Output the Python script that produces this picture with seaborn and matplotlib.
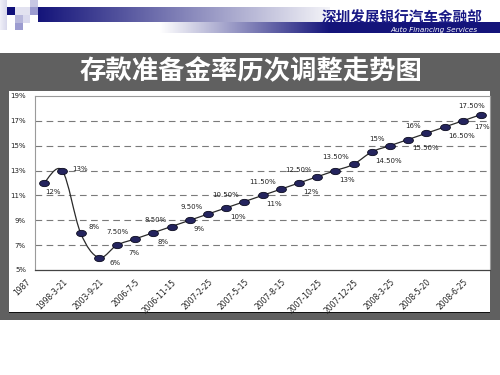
import numpy as np
import pandas as pd
import matplotlib
matplotlib.use("Agg")
import matplotlib.pyplot as plt
import seaborn as sns
from matplotlib.path import Path
from matplotlib.patches import PathPatch, Rectangle
from matplotlib.transforms import ScaledTranslation, Affine2D

# ---------------- data ----------------
dates = ["1987", "1988", "1998-3-21", "1999-11-21", "2003-9-21", "2004-4-25",
         "2006-7-5", "2006-8-15", "2006-11-15", "2007-1-15", "2007-2-25",
         "2007-4-16", "2007-5-15", "2007-6-5", "2007-8-15", "2007-9-25",
         "2007-10-25", "2007-11-26", "2007-12-25", "2008-1-25", "2008-3-25",
         "2008-4-25", "2008-5-20", "2008-6-15", "2008-6-25"]
rates = [12, 13, 8, 6, 7, 7.5, 8, 8.5, 9, 9.5, 10, 10.5, 11, 11.5, 12, 12.5,
         13, 13.5, 14.5, 15, 15.5, 16, 16.5, 17, 17.5]
point_labels = ["12%", "13%", "8%", "6%", "7%", "7.50%", "8%", "8.50%", "9%",
                "9.50%", "10%", "10.50%", "11%", "11.50%", "12%", "12.50%",
                "13%", "13.50%", "14.50%", "15%", "15.50%", "16%", "16.50%",
                "17%", "17.50%"]
y_ticks = [5, 7, 9, 11, 13, 15, 17, 19]
y_tick_labels = ["5%", "7%", "9%", "11%", "13%", "15%", "17%", "19%"]
shown_dates = dates[::2]
title = "存款准备金率历次调整走势图"
company_cn = "深圳发展银行汽车金融部"
company_en = "Auto Financing Services"

# label placement style per point: (ha, va, dx_px, dy_px)
BR = ("left", "top", 4, -6)
AL = ("right", "bottom", -5, 4)
placements = [("left", "top", 1, -6), ("left", "center", 10, 2),
              ("left", "center", 8, 6), ("left", "center", 11, -5.5),
              ("left", "center", 12, -8), ("right", "bottom", -6, 4)]
for i in range(6, 23):
    placements.append(BR if i % 2 == 0 else AL)
placements += [("left", "top", 12, -3), ("right", "bottom", 4, 6)]

# ---------------- figure ----------------
sns.set_style("white")
plt.rcParams["font.family"] = ["DejaVu Sans", "Noto Sans CJK SC"]

W, H = 500, 375
fig = plt.figure(figsize=(5, 3.75), dpi=100)
fig.patch.set_facecolor("white")


def fr(x0, y0, x1, y1):
    """pixel box (top-left origin) -> figure fraction rect"""
    return [x0 / W, 1 - y1 / H, (x1 - x0) / W, (y1 - y0) / H]


def rect(x0, y0, x1, y1, color, z=0):
    l, b, w, h = fr(x0, y0, x1, y1)
    fig.patches.append(Rectangle((l, b), w, h, transform=fig.transFigure,
                                 facecolor=color, edgecolor="none", zorder=z))


navy = "#14147a"
# grey panel
rect(0, 53, 500, 320, "#606060")
# white chart area
rect(9, 91, 490, 312, "white", 1)
rect(9, 311.5, 490, 313, "#111111", 2)

# header gradient bars
def grad_bar(x0, y0, x1, y1, c_left, c_right):
    ax_g = fig.add_axes(fr(x0, y0, x1, y1))
    c0 = np.array(matplotlib.colors.to_rgb(c_left))
    c1 = np.array(matplotlib.colors.to_rgb(c_right))
    t = np.linspace(0, 1, 256)[None, :, None]
    img = c0 + (c1 - c0) * t
    ax_g.imshow(img, aspect="auto", extent=[0, 1, 0, 1])
    ax_g.set_axis_off()
    return ax_g

grad_bar(38, 7, 330, 22, navy, "#f4f4f8")
grad_bar(160, 22, 330, 33, "#ffffff", navy)
rect(330, 22, 500, 33, navy)
grad_bar(0, 0, 7, 30, "#f0f0f8", "#d8d8ec")
rect(7, 7, 15, 15, "#10107a")
rect(15, 7, 30, 15, "#e2e2f0")
rect(30, 0, 38, 7, "#c8c8e4")
rect(30, 7, 38, 15, "#9c9cd0")
rect(15, 15, 23, 23, "#b8b8dc")
rect(23, 15, 30, 23, "#dadaee")
rect(15, 23, 23, 30, "#9c9cd0")

fig.text(482 / W, 1 - 17.5 / H, company_cn, ha="right", va="center",
         fontsize=10.5, fontweight="bold", color="#1a1a86",
         family=["Noto Sans CJK SC", "DejaVu Sans"])
fig.text(478 / W, 1 - 30 / H, company_en, ha="right", va="center",
         fontsize=5.2, style="italic", color="white")
fig.text(251 / W, 1 - 72 / H, title, ha="center", va="center",
         fontsize=19, fontweight="bold", color="white",
         family=["Noto Sans CJK SC", "DejaVu Sans"])

# ---------------- plot area ----------------
ax = fig.add_axes(fr(35, 96, 490, 270))
ax.set_zorder(5)
ax.set_facecolor("white")

df = pd.DataFrame({"date": dates, "rate": rates})
df["pos"] = np.arange(len(df))

# smoothed line (Catmull-Rom -> cubic Bezier), like Excel smoothing
P = df[["pos", "rate"]].to_numpy(dtype=float)
n = len(P)
verts = [P[0]]
codes = [Path.MOVETO]
for i in range(n - 1):
    p_prev = P[i - 1] if i > 0 else P[i]
    p_next = P[i + 2] if i + 2 < n else P[i + 1]
    c1 = P[i] + (P[i + 1] - p_prev) / 6.0
    c2 = P[i + 1] - (p_next - P[i]) / 6.0
    verts += [c1, c2, P[i + 1]]
    codes += [Path.CURVE4] * 3
ax.add_patch(PathPatch(Path(verts, codes), fill=False, edgecolor="#2a2a2a",
                       lw=0.9, zorder=2))

ell = Path.unit_circle().transformed(Affine2D().scale(1.0, 0.64))
sns.scatterplot(data=df, x="pos", y="rate", marker=ell, s=50,
                color="#24245e", edgecolor="#0a0a1e", linewidth=0.6,
                zorder=3, ax=ax, legend=False)

for i, (xv, yv, lab) in enumerate(zip(df["pos"], df["rate"], point_labels)):
    ha, va, dx, dy = placements[i]
    ax.annotate(lab, (xv, yv), xytext=(dx * 0.72, dy * 0.72),
                textcoords="offset points", ha=ha, va=va, fontsize=5,
                color="#222222", zorder=4)

ax.set_xlim(-0.5, len(dates) - 0.5)
ax.set_ylim(5, 19)
ax.set_xlabel("")
ax.set_ylabel("")

# grid lines
for yv in y_ticks[1:-1]:
    ax.axhline(yv, color="#7a7a7a", lw=0.8, ls=(0, (6, 4)), zorder=1)

ax.set_yticks(y_ticks)
ax.set_yticklabels(y_tick_labels)
ax.tick_params(axis="y", length=0, pad=6.5, labelsize=5, labelcolor="#222222")

ax.set_xticks(np.arange(-0.5, len(dates), 1.0))
ax.set_xticklabels([])
ax.tick_params(axis="x", which="major", direction="in", length=2.5,
               width=0.8, color="#333333")
ax.set_xticks(np.arange(0, len(dates), 2), minor=True)
ax.set_xticklabels(shown_dates, minor=True, rotation=45, ha="right",
                   va="top", rotation_mode="anchor", fontsize=5.5,
                   color="#222222")
ax.tick_params(axis="x", which="minor", length=0, pad=5.5)
off = ScaledTranslation(-18 / 100, 0, fig.dpi_scale_trans)
for lab in ax.get_xticklabels(minor=True):
    lab.set_transform(lab.get_transform() + off)

for side in ["top", "right", "left"]:
    ax.spines[side].set_color("#9a9a9a")
    ax.spines[side].set_linewidth(0.8)
ax.spines["bottom"].set_color("#444444")
ax.spines["bottom"].set_linewidth(0.9)

fig.savefig("out.png", dpi=100)
